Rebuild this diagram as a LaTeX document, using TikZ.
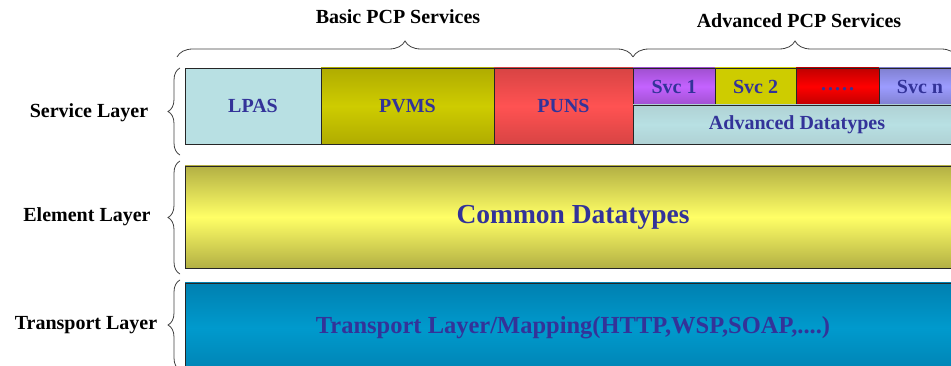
\documentclass[tikz,border=0pt]{standalone}
\usepackage{fontspec}
\setmainfont{Liberation Serif}
\usetikzlibrary{decorations.pathreplacing}
\definecolor{txtblue}{HTML}{333399}
\definecolor{lblue}{HTML}{B8E0E3}
\definecolor{olvA}{HTML}{B0AC00}
\definecolor{olvB}{HTML}{CECC00}
\definecolor{redA}{HTML}{D84444}
\definecolor{redB}{HTML}{FF5252}
\definecolor{purA}{HTML}{A050D0}
\definecolor{purB}{HTML}{C462FF}
\definecolor{rrA}{HTML}{C00000}
\definecolor{rrB}{HTML}{FF0000}
\definecolor{bluA}{HTML}{8080D0}
\definecolor{bluB}{HTML}{9C9CFF}
\definecolor{yelA}{HTML}{B3B044}
\definecolor{yelB}{HTML}{FFFF66}
\definecolor{trA}{HTML}{0080B0}
\definecolor{trB}{HTML}{009ACD}
\tikzset{
  x=1pt,y=1pt,
  box/.style={draw=black!85,line width=0.9pt,inner sep=0pt,outer sep=0pt,anchor=north west,
    text=txtblue,font=\bfseries\fontsize{20}{24}\selectfont},
  grad/.style n args={2}{top color=#1,bottom color=#1,middle color=#2},
  lbl/.style={font=\bfseries\fontsize{20}{24}\selectfont,text=black,inner sep=0pt},
  brc/.style={decorate,decoration={brace,amplitude=#1},draw=black!75,line width=0.8pt},
}
\begin{document}
\begin{tikzpicture}
\clip (0,0) rectangle (951,-366);
% Service layer
\node[box,fill=lblue,minimum width=136,minimum height=76] (lpas) at (185,-68) {LPAS};
\node[box,grad={olvA}{olvB},minimum width=173,minimum height=76] (pvms) at (321,-68) {PVMS};
\node[box,grad={redA}{redB},minimum width=139,minimum height=76] (puns) at (494,-68) {PUNS};
\node[box,grad={purA}{purB},minimum width=82,minimum height=37] (svc1) at (633,-68) {Svc 1};
\node[box,grad={olvB}{olvB},minimum width=81,minimum height=37] (svc2) at (715,-68) {Svc 2};
\node[box,grad={rrA}{rrB},minimum width=83,minimum height=37] (dots) at (796,-68) {};
\node[text=txtblue,font=\bfseries\fontsize{20}{24}\selectfont,inner sep=0pt] (dotst) at ([yshift=-3]dots.center) {.\kern2pt.\kern2pt.\kern2pt.\kern2pt.};
\node[box,grad={bluA}{bluB},minimum width=82,minimum height=37] (svcn) at (879,-68) {Svc n};
\node[box,grad={lblue!85!gray}{lblue},minimum width=328,minimum height=39] (advdt) at (633,-105) {Advanced Datatypes};
% Element layer
\node[box,grad={yelA}{yelB},minimum width=776,minimum height=102,
  font=\bfseries\fontsize{27.5}{32}\selectfont] (common) at (185,-166) {Common Datatypes};
% Transport layer
\node[box,top color=trA,bottom color=trA!90!trB,middle color=trB,minimum width=776,minimum height=90,
  font=\bfseries\fontsize{24.5}{28}\selectfont] (trans) at (185,-283) {Transport Layer/Mapping(HTTP,WSP,SOAP,....)};
% top labels and braces
\coordinate (b1) at (177,-57);
\coordinate (b2) at (633,-57);
\coordinate (b3) at (957,-57);
\draw[brc=16pt] (b1) -- (b2);
\draw[brc=16pt] (b2) -- (b3);
\node[lbl] (basic) at (398,-17) {Basic PCP Services};
\node[lbl] (adv) at (799,-21) {Advanced PCP Services};
% left braces and labels
\coordinate (s1) at (180,-155);
\coordinate (s2) at (180,-68);
\coordinate (e1) at (180,-274);
\coordinate (e2) at (180,-161);
\coordinate (t1) at (180,-370);
\coordinate (t2) at (180,-280);
\draw[brc=12pt] (s1) -- (s2);
\draw[brc=12pt] (e1) -- (e2);
\draw[brc=12pt] (t1) -- (t2);
\node[lbl] (sl) at (89,-113) {Service Layer};
\node[lbl] (el) at (87,-217) {Element Layer};
\node[lbl] (tl) at (86,-325) {Transport Layer};
\end{tikzpicture}
\end{document}
